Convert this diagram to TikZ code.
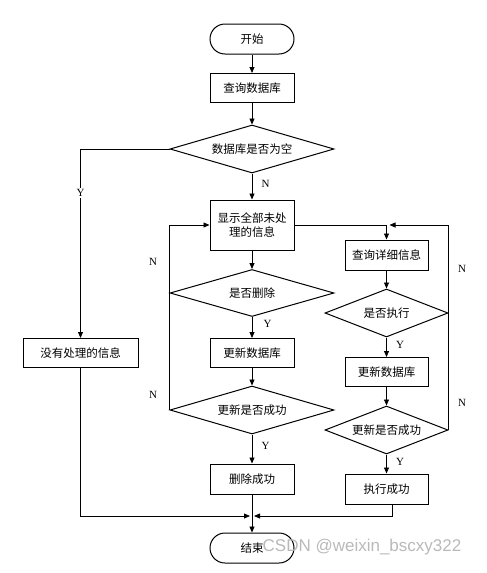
\documentclass[tikz,border=0pt]{standalone}
\usepackage{fontspec}
\setmainfont{Liberation Serif}
\newfontfamily\cjk{Noto Sans CJK SC}
\newfontfamily\wmfont{Liberation Sans}
\usetikzlibrary{arrows.meta,shapes.geometric}

\begin{document}
\begin{tikzpicture}[x=1pt,y=-1pt,
  base/.style={draw,line width=1pt,font=\cjk\fontsize{11.5}{14}\selectfont,
    align=center,inner sep=2pt},
  term/.style={base,rounded corners=15pt,minimum width=84pt,minimum height=30pt},
  proc/.style={base,minimum width=84pt,minimum height=29pt},
  dec/.style={base,diamond,minimum width=164pt,minimum height=48pt,aspect=3.4,inner sep=0pt},
  decs/.style={base,diamond,minimum width=123pt,minimum height=48pt,aspect=2.5,inner sep=0pt},
  arr/.style={-{Triangle[length=6pt,width=5pt]},line width=0.8pt},
  line/.style={line width=0.8pt},
  yn/.style={font=\fontsize{11}{13}\selectfont}
]
  \useasboundingbox (0,0) rectangle (487,573);

  % main column
  \node[term] (start) at (252,39) {开始};
  \node[proc] (query) at (252,88) {查询数据库};
  \node[dec] (empty) at (252,149) {数据库是否为空};
  \node[proc,minimum height=50pt] (show) at (252,225) {显示全部未处\\理的信息};
  \node[dec,minimum height=47pt] (del) at (252,293) {是否删除};
  \node[proc] (upd1) at (252,353) {更新数据库};
  \node[dec] (ok1) at (252,410) {更新是否成功};
  \node[proc,minimum height=30pt] (delok) at (252,479) {删除成功};
  \node[term] (stop) at (252,548) {结束};

  % empty branch
  \node[proc,minimum width=115pt] (none) at (80.5,353) {没有处理的信息};

  % detail column
  \node[proc,minimum width=83pt,minimum height=30pt] (detail) at (386.5,255) {查询详细信息};
  \node[decs] (exec) at (386.5,313) {是否执行};
  \node[proc,minimum width=83pt] (upd2) at (386.5,372) {更新数据库};
  \node[decs] (ok2) at (386.5,430) {更新是否成功};
  \node[proc,minimum width=83pt,minimum height=30pt] (execok) at (386.5,489) {执行成功};

  \coordinate (jr) at (389.5,225);
  \coordinate (ml) at (250,516);
  \coordinate (mr) at (254,516);

  % arrows
  \draw[arr] (start) -- (query);
  \draw[arr] (query) -- (empty);
  \draw[arr] (empty) -- (show) node[yn,pos=0.4,right=6pt]{N};
  \draw[arr] (empty.west) -| (none.north);
  \node[yn,fill=white,inner sep=1pt] (y1) at (80.5,193) {Y};
  \draw[arr] (show) -- (del);
  \draw[arr] (del) -- (upd1) node[yn,pos=0.35,right=8pt]{Y};
  \draw[arr] (upd1) -- (ok1);
  \draw[arr] (ok1) -- (delok) node[yn,pos=0.4,right=6pt]{Y};
  \draw[arr] (delok) -- (stop);
  \draw[arr] (ok1.west) |- (show.west);
  \node[yn] (n1) at (153,262) {N};
  \node[yn] (n2) at (153,395) {N};

  \draw[arr] (show.east) -| (detail.north);
  \draw[arr] (detail) -- (exec);
  \draw[arr] (exec) -- (upd2) node[yn,pos=0.4,right=6pt]{Y};
  \draw[arr] (upd2) -- (ok2);
  \draw[arr] (ok2) -- (execok) node[yn,pos=0.4,right=6pt]{Y};
  \draw[line] (ok2.east) -- (exec.east);
  \draw[arr] (exec.east) |- (jr);
  \node[yn] (n3) at (462,269) {N};
  \node[yn] (n4) at (462,403) {N};

  \draw[arr] (none.south) |- (ml);
  \draw[arr] ([xshift=6pt]execok.south) |- (mr);

  % watermark
  \node[text=gray!55,font=\wmfont\fontsize{17}{20}\selectfont] (wm) at (362,547) {CSDN @weixin\_bscxy322};
\end{tikzpicture}
\end{document}
